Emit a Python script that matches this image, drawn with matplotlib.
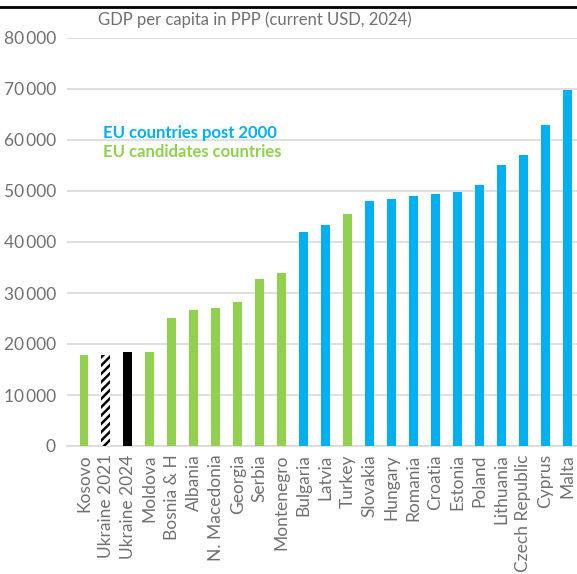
import numpy as np
import matplotlib.pyplot as plt

countries = ['Kosovo', 'Ukraine 2021', 'Ukraine 2024', 'Moldova', 'Bosnia & H', 'Albania',
             'N. Macedonia', 'Georgia', 'Serbia', 'Montenegro', 'Bulgaria', 'Latvia', 'Turkey',
             'Slovakia', 'Hungary', 'Romania', 'Croatia', 'Estonia', 'Poland', 'Lithuania',
             'Czech Republic', 'Cyprus', 'Malta']
gdp = [17800, 17800, 18400, 18400, 25100, 26700, 27000, 28200, 32700, 33900, 42000, 43300,
       45500, 48000, 48400, 49000, 49400, 49800, 51200, 55100, 57100, 62900, 69800]
group = ['cand', 'ua21', 'ua24', 'cand', 'cand', 'cand', 'cand', 'cand', 'cand', 'cand',
         'eu', 'eu', 'cand', 'eu', 'eu', 'eu', 'eu', 'eu', 'eu', 'eu', 'eu', 'eu', 'eu']

green = '#92D050'
blue = '#00B0F0'
grey = '#707070'

plt.rcParams['font.family'] = ['Lato', 'DejaVu Sans']
plt.rcParams['hatch.linewidth'] = 1.8

fig = plt.figure(figsize=(5.77, 5.74), dpi=100)
ax = fig.add_axes([67/577, 128/574, 510/577, 408/574])

x = np.arange(len(countries))
for i in range(len(countries)):
    g = group[i]
    if g == 'ua21':
        ax.bar(x[i], gdp[i], width=0.4, color='white', edgecolor='black', hatch='////',
               linewidth=0, zorder=3)
    elif g == 'ua24':
        ax.bar(x[i], gdp[i], width=0.4, color='black', zorder=3)
    else:
        ax.bar(x[i], gdp[i], width=0.4, color=green if g == 'cand' else blue, zorder=3)

ax.set_xlim(-0.77, 22.45)
ax.set_ylim(0, 80000)
ax.set_yticks(np.arange(0, 80001, 10000))
ax.set_yticklabels([f'{v:,}'.replace(',', '\u2009') if v else '0' for v in range(0, 80001, 10000)])
ax.yaxis.grid(True, color='#d9d9d9', linewidth=1.2, zorder=0)
ax.set_axisbelow(True)

ax.set_xticks(x)
ax.set_xticklabels(countries, rotation=90, fontsize=12.5)
ax.tick_params(axis='both', length=0, colors=grey)
ax.tick_params(axis='y', pad=8, labelsize=12.5)
ax.tick_params(axis='x', pad=6)
for s in ['top', 'right', 'left']:
    ax.spines[s].set_visible(False)
ax.spines['bottom'].set_color('#d9d9d9')
ax.spines['bottom'].set_linewidth(1.2)

fig.text(98/577, 1 - 20/574, 'GDP per capita in PPP (current USD, 2024)', fontsize=12,
         color=grey, va='center')
fig.text(103/577, 1 - 133/574, 'EU countries post 2000', fontsize=12, fontweight='bold',
         color=blue, va='center')
fig.text(103/577, 1 - 152/574, 'EU candidates countries', fontsize=12, fontweight='bold',
         color=green, va='center')
fig.add_artist(plt.Line2D([0, 1], [1 - 7/574, 1 - 7/574], color='black', linewidth=2))

fig.savefig('out.png', dpi=100)
